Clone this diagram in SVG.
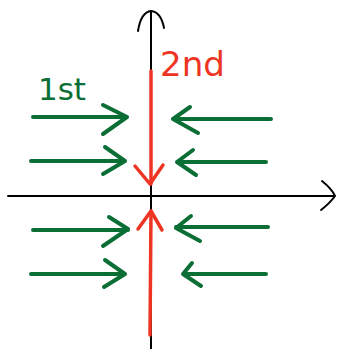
<svg xmlns="http://www.w3.org/2000/svg" width="337" height="349" viewBox="0 0 337 349">
<style>
.ax{stroke:#000;stroke-width:2;fill:none;stroke-linecap:round;stroke-linejoin:round}
.g{stroke:#0b6e35;stroke-width:4;fill:none;stroke-linecap:round;stroke-linejoin:round}
.r{stroke:#ee3524;stroke-width:3.5;fill:none;stroke-linecap:round;stroke-linejoin:round}
.gt{fill:#0b6e35;font-family:"DejaVu Sans",sans-serif;font-size:30px}
.rt{fill:#ee3524;font-family:"DejaVu Sans",sans-serif;font-size:33px}
</style>
<rect width="337" height="349" fill="#fff"/>
<g id="axes">
<path class="ax" d="M151,349 L151,12"/>
<path class="ax" d="M138,31 Q141,12 151,11 Q161,12 164,28"/>
<path class="ax" d="M8,196 L334,196"/>
<path class="ax" d="M322,181 Q332,189 335,196 Q330,203 321,210"/>
</g>
<g id="connectors">
<g id="red-upper">
<path class="r" d="M151,71 L151,184"/>
<path class="r" d="M135,166 L150,184 L163,165"/>
</g>
<g id="red-lower">
<path class="r" d="M150,335 L151,211"/>
<path class="r" d="M138,229 L151,211 L162,230"/>
</g>
<g id="g1"><path class="g" d="M33,117 L127,117 M103,105 L127,117 L103,134"/></g>
<g id="g2"><path class="g" d="M271,119 L173,119 M190,107 L173,119 L198,133"/></g>
<g id="g3"><path class="g" d="M31,161 L125,161 M105,147 L125,161 L103,174"/></g>
<g id="g4"><path class="g" d="M266,162 L177,162 M193,150 L177,162 L196,175"/></g>
<g id="g5"><path class="g" d="M33,230 L128,230 M109,217 L128,229 L103,246"/></g>
<g id="g6"><path class="g" d="M268,227 L176,227 M191,216 L176,228 L200,241"/></g>
<g id="g7"><path class="g" d="M31,274 L125,274 M105,260 L125,274 L104,287"/></g>
<g id="g8"><path class="g" d="M266,274 L183,274 M192,263 L183,274 L201,286"/></g>
</g>
<g id="label-1st"><text class="gt" x="38" y="100" textLength="48" lengthAdjust="spacingAndGlyphs">1st</text></g>
<g id="label-2nd"><text class="rt" x="160" y="76" textLength="65" lengthAdjust="spacingAndGlyphs">2nd</text></g>
</svg>
